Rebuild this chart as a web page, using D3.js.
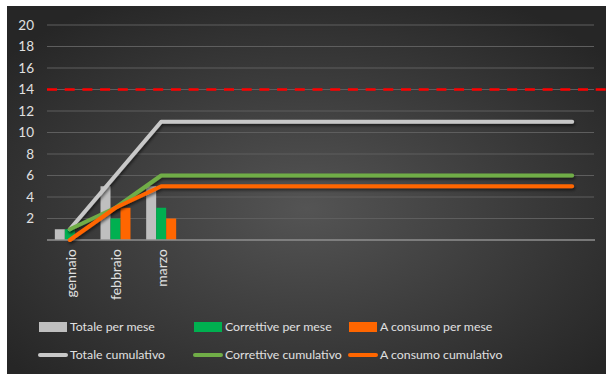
<!DOCTYPE html>
<html><head><meta charset="utf-8">
<script src="https://cdn.jsdelivr.net/npm/d3@7"></script>
<style>
html,body{margin:0;padding:0;background:#fff;overflow:hidden;}
svg{display:block;font-family:Lato, "Open Sans", sans-serif;}
</style></head>
<body>
<svg id="chart" width="606" height="374"></svg>
<script>
const months = ["gennaio","febbraio","marzo","aprile","maggio","giugno","luglio","agosto","settembre","ottobre","novembre","dicembre"];
const tickLabels = ["gennaio","febbraio","marzo","","","","","","","","",""];
const totalePerMese = [1,5,5];
const correttivePerMese = [1,2,3];
const consumoPerMese = [0,3,2];
const totaleCumulativo = [1,6,11,11,11,11,11,11,11,11,11,11];
const correttiveCumulativo = [1,3,6,6,6,6,6,6,6,6,6,6];
const consumoCumulativo = [0,3,5,5,5,5,5,5,5,5,5,5];
const soglia = 14;
const yTicks = [2,4,6,8,10,12,14,16,18,20];

const svg = d3.select("#chart");
const defs = svg.append("defs");
const rg = defs.append("radialGradient").attr("id","bg")
  .attr("cx","50%").attr("cy","55%").attr("r","65%");
rg.append("stop").attr("offset","0%").attr("stop-color","#545454");
rg.append("stop").attr("offset","100%").attr("stop-color","#262626");
const f = defs.append("filter").attr("id","sh").attr("x","-10%").attr("y","-50%").attr("width","120%").attr("height","200%");
f.append("feDropShadow").attr("dx",1).attr("dy",2).attr("stdDeviation",1.5).attr("flood-color","#000").attr("flood-opacity",0.55);

svg.append("rect").attr("x",7).attr("y",6).attr("width",599).attr("height",368).attr("fill","url(#bg)");

const idx = d3.range(months.length);
const x = d3.scaleBand().domain(idx).range([47,595]).padding(0);
const y = d3.scaleLinear().domain([0,20]).range([240,25]);

// gridlines
svg.append("g").selectAll("line").data(yTicks).join("line")
  .attr("x1",47).attr("x2",594).attr("y1",d=>y(d)).attr("y2",d=>y(d))
  .attr("stroke","#5e5e5e").attr("stroke-width",1);

// y labels
svg.append("g").selectAll("text").data(yTicks).join("text")
  .attr("x",34).attr("y",d=>y(d)).attr("dy","0.36em").attr("text-anchor","end")
  .attr("fill","#e0e0e0").attr("font-size","13.5px").text(d=>d);

// bars
const series = [
  {vals: totalePerMese, color:"#bfbfbf"},
  {vals: correttivePerMese, color:"#00b050"},
  {vals: consumoPerMese, color:"#ff6600"}
];
const xs = d3.scaleBand().domain([0,1,2]).range([-15,15]).padding(0);
series.forEach((s,si)=>{
  svg.append("g").selectAll("rect").data(s.vals).join("rect")
    .attr("x",(d,i)=>x(i)+x.bandwidth()/2+xs(si))
    .attr("width",xs.bandwidth())
    .attr("y",d=>y(d)).attr("height",d=>y(0)-y(d))
    .attr("fill",s.color);
});

// baseline
svg.append("line").attr("x1",47).attr("x2",595).attr("y1",y(0)).attr("y2",y(0))
  .attr("stroke","#8f8f8f").attr("stroke-width",1.5);

// threshold
svg.append("line").attr("x1",47).attr("x2",606).attr("y1",y(soglia)).attr("y2",y(soglia))
  .attr("stroke","#ff0000").attr("stroke-width",2.5).attr("stroke-dasharray","10,7.7");

// lines
const line = d3.line().x((d,i)=>x(i)+x.bandwidth()/2).y(d=>y(d));
[{v:totaleCumulativo,c:"#c8c8c8"},{v:correttiveCumulativo,c:"#70ad47"},{v:consumoCumulativo,c:"#ff6600"}].forEach(s=>{
  svg.append("path").datum(s.v).attr("d",line).attr("fill","none")
    .attr("stroke",s.c).attr("stroke-width",4).attr("stroke-linecap","round").attr("stroke-linejoin","round")
    .attr("filter","url(#sh)");
});

// x labels
svg.append("g").selectAll("text").data(tickLabels).join("text")
  .attr("transform",(d,i)=>`translate(${x(i)+x.bandwidth()/2+1},249) rotate(-90)`)
  .attr("text-anchor","end").attr("dy","0.35em")
  .attr("fill","#e0e0e0").attr("font-size","14px").text(d=>d);

// legend
const legend = [
  {t:"Totale per mese",c:"#bfbfbf",type:"bar",col:0,row:0},
  {t:"Correttive per mese",c:"#00b050",type:"bar",col:1,row:0},
  {t:"A consumo per mese",c:"#ff6600",type:"bar",col:2,row:0},
  {t:"Totale cumulativo",c:"#c8c8c8",type:"line",col:0,row:1},
  {t:"Correttive cumulativo",c:"#70ad47",type:"line",col:1,row:1},
  {t:"A consumo cumulativo",c:"#ff6600",type:"line",col:2,row:1}
];
const colX = [39,194,349], rowY = [327,355];
legend.forEach(l=>{
  const lx = colX[l.col], ly = rowY[l.row];
  if(l.type==="bar"){
    svg.append("rect").attr("x",lx).attr("y",ly-5).attr("width",28).attr("height",10).attr("fill",l.c);
  } else {
    svg.append("line").attr("x1",lx+1).attr("x2",lx+27).attr("y1",ly).attr("y2",ly)
      .attr("stroke",l.c).attr("stroke-width",4).attr("stroke-linecap","round");
  }
  svg.append("text").attr("x",lx+31).attr("y",ly).attr("dy","0.35em")
    .attr("fill","#e0e0e0").attr("font-size","12.3px").text(l.t);
});
</script>
</body></html>
